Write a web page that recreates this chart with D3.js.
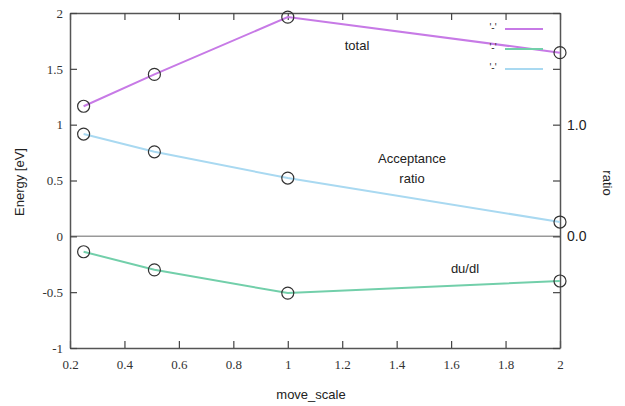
<html>
<head>
	<style>
		body { margin: 0; background: white; }
	</style>
	<script type="text/javascript" src="https://d3js.org/d3.v7.min.js"></script>
</head>
<body>
<svg width="625" height="406"></svg>
<script>
	// data
	var moveScale = [0.25, 0.51, 1, 2];
	var total = [1.165, 1.45, 1.963, 1.645];
	var acceptance = [0.916, 0.757, 0.522, 0.128];
	var dudl = [-0.138, -0.30, -0.508, -0.40];

	var xTicks = [0.2, 0.4, 0.6, 0.8, 1, 1.2, 1.4, 1.6, 1.8, 2];
	var yTicks = [-1, -0.5, 0, 0.5, 1, 1.5, 2];
	var y2Ticks = [0, 1];

	var svg = d3.select("svg"),
		plotLeft = 70, plotRight = 560, plotTop = 13, plotBottom = 348;

	var serif = "Liberation Serif, DejaVu Serif, serif",
		sans = "Liberation Sans, Arial, sans-serif";

	var xScale = d3.scaleLinear().domain([0.2, 2]).range([plotLeft, plotRight]),
		yScale = d3.scaleLinear().domain([-1, 2]).range([plotBottom, plotTop]);

	// zero line
	svg.append("line")
		.attr("x1", plotLeft).attr("x2", plotRight)
		.attr("y1", yScale(0)).attr("y2", yScale(0))
		.attr("stroke", "#999").attr("stroke-width", 1.5);

	// axes, gnuplot style (ticks pointing in)
	function styleAxis(g) {
		g.attr("font-family", serif).attr("font-size", 13);
		g.select(".domain").attr("stroke", "#555").attr("stroke-width", 1.5);
		g.selectAll(".tick line").attr("stroke", "#444").attr("stroke-width", 1.2);
		g.selectAll(".tick text").style("font-family", serif).attr("fill", "#333");
	}

	svg.append("g")
		.attr("transform", "translate(0," + plotBottom + ")")
		.call(d3.axisBottom(xScale).tickValues(xTicks).tickSize(-7).tickPadding(12).tickSizeOuter(0)
			.tickFormat(function(d) { return d; }))
		.call(styleAxis);

	svg.append("g")
		.attr("transform", "translate(0," + plotTop + ")")
		.call(d3.axisTop(xScale).tickValues(xTicks).tickSize(-7).tickSizeOuter(0).tickFormat(""))
		.call(styleAxis);

	svg.append("g")
		.attr("transform", "translate(" + plotLeft + ",0)")
		.call(d3.axisLeft(yScale).tickValues(yTicks).tickSize(-7).tickPadding(7).tickSizeOuter(0)
			.tickFormat(function(d) { return d; }))
		.call(styleAxis);

	svg.append("g")
		.attr("transform", "translate(" + plotRight + ",0)")
		.call(d3.axisRight(yScale).tickValues(yTicks).tickSize(-7).tickSizeOuter(0).tickFormat(""))
		.call(styleAxis);

	// right axis: ratio
	svg.append("g")
		.attr("transform", "translate(" + plotRight + ",0)")
		.call(d3.axisRight(yScale).tickValues(y2Ticks).tickSize(0).tickPadding(7).tickSizeOuter(0)
			.tickFormat(d3.format(".1f")))
		.call(function(g) {
			g.attr("font-family", sans).attr("font-size", 14);
			g.select(".domain").remove();
			g.selectAll(".tick text").attr("fill", "#222");
		});

	// series
	var series = [
		{ values: total, color: "#c77ae6" },
		{ values: dudl, color: "#72cfaa" },
		{ values: acceptance, color: "#a9d9f1" }
	];

	var line = d3.line()
		.x(function(d) { return xScale(d[0]); })
		.y(function(d) { return yScale(d[1]); });

	series.forEach(function(s, i) {
		var pts = moveScale.map(function(m, j) { return [m, s.values[j]]; });
		svg.append("path")
			.datum(pts)
			.attr("fill", "none")
			.attr("stroke", s.color)
			.attr("stroke-width", 2)
			.attr("d", line);

		// legend
		var ly = 29 + i * 20;
		svg.append("line")
			.attr("x1", 505).attr("x2", 543).attr("y1", ly).attr("y2", ly)
			.attr("stroke", s.color).attr("stroke-width", 2);
		svg.append("text")
			.attr("x", 493).attr("y", ly + 2)
			.attr("text-anchor", "middle")
			.attr("font-family", sans)
			.attr("font-size", "10px")
			.attr("fill", "#333")
			.text("'-'");
	});

	series.forEach(function(s) {
		svg.selectAll(null)
			.data(moveScale.map(function(m, j) { return [m, s.values[j]]; }))
			.enter().append("circle")
			.attr("cx", function(d) { return xScale(d[0]); })
			.attr("cy", function(d) { return yScale(d[1]); })
			.attr("r", 6)
			.attr("fill", "none")
			.attr("stroke", "#333")
			.attr("stroke-width", 1.2);
	});

	// labels
	function label(x, y, txt, rot) {
		var t = svg.append("text")
			.attr("text-anchor", "middle")
			.attr("font-family", sans)
			.attr("font-size", "13px")
			.attr("fill", "#222")
			.text(txt);
		if (rot) t.attr("transform", "translate(" + x + "," + y + ") rotate(" + rot + ")");
		else t.attr("x", x).attr("y", y);
	}

	label(357, 50, "total");
	label(412, 163, "Acceptance");
	label(412, 183, "ratio");
	label(465, 273, "du/dl");
	label(24, 182, "Energy  [eV]", -90);
	label(603, 183, "ratio", 90);
	label(311, 399, "move_scale");
</script>
</body>
</html>
